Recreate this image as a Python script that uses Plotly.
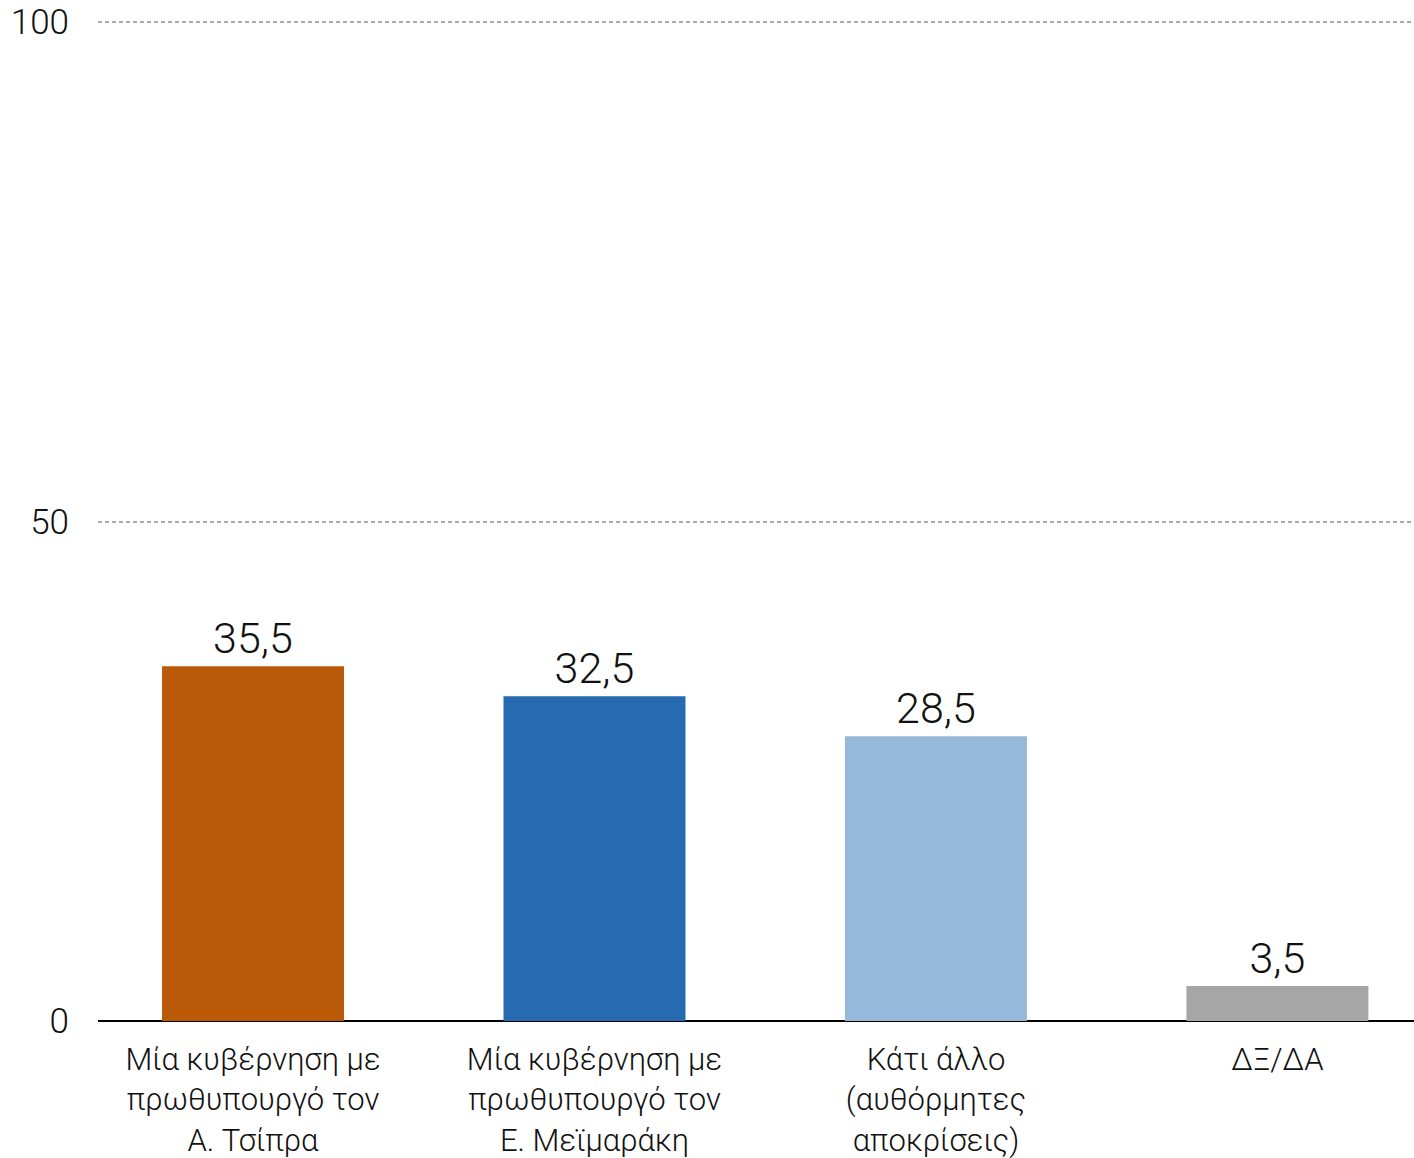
import plotly.graph_objects as go

categories = [
    "Μία κυβέρνηση με<br>πρωθυπουργό τον<br>Α. Τσίπρα",
    "Μία κυβέρνηση με<br>πρωθυπουργό τον<br>Ε. Μεϊμαράκη",
    "Κάτι άλλο<br>(αυθόρμητες<br>αποκρίσεις)",
    "ΔΞ/ΔΑ",
]
values = [35.5, 32.5, 28.5, 3.5]
colors = ["#BA5A08", "#266AB2", "#96B8DA", "#A6A6A6"]
y_ticks = [0, 50, 100]

FONT = "Roboto"

fig = go.Figure()
fig.add_trace(go.Bar(
    x=list(range(len(categories))),
    y=values,
    marker=dict(color=colors, line=dict(width=0)),
    width=0.533,
    texttemplate="%{y:.1f}",
    textposition="outside",
    textfont=dict(family=FONT, size=43, color="#111111", weight=300),
    cliponaxis=False,
    hoverinfo="skip",
))

fig.update_layout(
    width=1414, height=1158,
    margin=dict(l=98, r=0, t=20, b=137),
    paper_bgcolor="white", plot_bgcolor="white",
    separators=",.",
    showlegend=False,
    font=dict(family=FONT, color="#111111", weight=300),
    xaxis=dict(
        tickmode="array",
        tickvals=list(range(len(categories))),
        ticktext=categories,
        range=[-0.454, 3.40],
        showgrid=False,
        showline=False,
        zeroline=False,
        ticks="",
        automargin=False,
        ticklabelstandoff=17,
        tickfont=dict(family=FONT, size=31, color="#111111", weight=300),
    ),
    yaxis=dict(
        range=[0, 100.2],
        tickvals=y_ticks,
        showgrid=True,
        gridcolor="#ABABAB",
        gridwidth=2,
        griddash="4px,3px",
        zeroline=True,
        zerolinecolor="#000000",
        zerolinewidth=2,
        showline=False,
        ticks="",
        automargin=False,
        ticklabelstandoff=28,
        tickfont=dict(family=FONT, size=35, color="#111111", weight=300),
    ),
)

fig.write_html(
    "out.html",
    config={"displayModeBar": False},
    post_script="document.body.style.margin='0';",
)
